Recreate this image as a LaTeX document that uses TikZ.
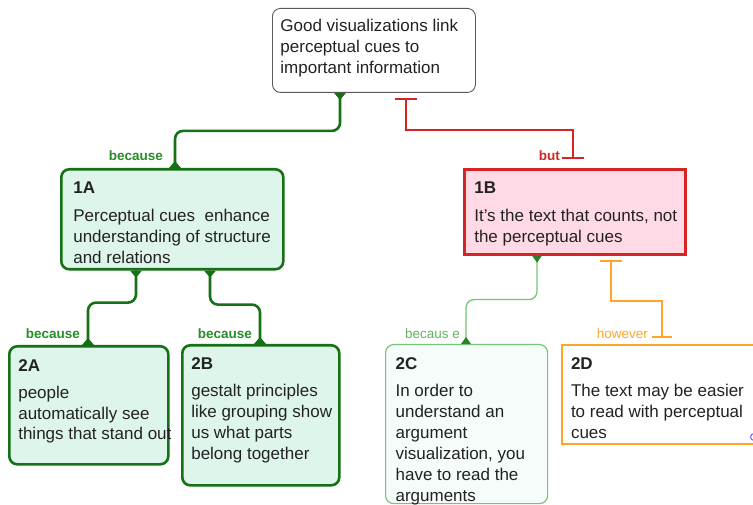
\documentclass[tikz,border=0pt]{standalone}
\usepackage{fontspec}
\setmainfont{Liberation Sans}
\definecolor{txt}{RGB}{34,34,34}
\definecolor{dgreen}{RGB}{22,112,22}
\definecolor{lblgreen}{RGB}{40,140,40}
\definecolor{mint}{RGB}{222,245,235}
\definecolor{redc}{RGB}{212,36,36}
\definecolor{pinkc}{RGB}{255,218,230}
\definecolor{lgreen}{RGB}{118,196,118}
\definecolor{pale}{RGB}{246,252,249}
\definecolor{orangec}{RGB}{255,166,40}
\definecolor{grayb}{RGB}{90,90,90}
\newcommand{\cbody}[3]{\parbox[t][#1][t]{#2}{\begin{tabular}[t]{@{}l@{}}#3\end{tabular}}}
\hbadness=10000 \hfuzz=200pt
\begin{document}
\begin{tikzpicture}[x=1pt,y=-1pt,
  every node/.style={text=txt, font=\fontsize{17}{21}\selectfont},
  topbox/.style={draw=grayb, line width=0.9pt, fill=white, rounded corners=8pt, inner xsep=8pt, inner ysep=8pt, anchor=north west},
  gbox/.style={draw=dgreen, line width=2.6pt, fill=mint, rounded corners=8pt, inner xsep=12pt, inner ysep=10pt, anchor=north west},
  rbox/.style={draw=redc, line width=2.6pt, fill=pinkc, inner xsep=10pt, inner ysep=10pt, anchor=north west},
  lgbox/.style={draw=lgreen, line width=1.2pt, fill=pale, rounded corners=8pt, inner xsep=10pt, inner ysep=10pt, anchor=north west},
  obox/.style={draw=orangec, line width=2pt, fill=white, inner xsep=9pt, inner ysep=10pt, anchor=north west},
  gline/.style={draw=dgreen, line width=2.6pt, rounded corners=8pt},
  rline/.style={draw=redc, line width=2.6pt},
  lgline/.style={draw=lgreen, line width=1.3pt, rounded corners=8pt},
  oline/.style={draw=orangec, line width=2pt},
  lbl/.style={font=\fontsize{13.5}{15}\selectfont\bfseries, inner sep=0pt, anchor=base east},
  lbln/.style={font=\fontsize{13.5}{15}\selectfont, inner sep=0pt, anchor=base east}
]
\useasboundingbox (0,0) rectangle (753,505);
\fill[white] (0,0) rectangle (753,505);

% boxes
\node[topbox] (top) at (272,8) {\cbody{68pt}{187pt}{Good visualizations link\\perceptual cues to\\important information}};
\node[gbox] (n1A) at (60,168) {\cbody{80pt}{198pt}{\textbf{1A}\\[7pt]Perceptual cues\ \ enhance\\understanding of structure\\and relations}};
\node[rbox] (n1B) at (463,168) {\cbody{65pt}{201pt}{\textbf{1B}\\[7pt]It's the text that counts, not\\the perceptual cues}};
\node[gbox, inner xsep=9pt] (n2A) at (8,345) {\cbody{98pt}{141pt}{\textbf{2A}\\[6pt]people\\automatically see\\things that stand out}};
\node[gbox, inner xsep=9pt] (n2B) at (181,344) {\cbody{120pt}{139pt}{\textbf{2B}\\[6pt]gestalt principles\\like grouping show\\us what parts\\belong together}};
\node[lgbox] (n2C) at (385,344) {\cbody{139pt}{142pt}{\textbf{2C}\\[6pt]In order to\\understand an\\argument\\visualization, you\\have to read the\\arguments}};
\node[obox] (n2D) at (561,344) {\cbody{79pt}{181pt}{\textbf{2D}\\[6pt]The text may be easier\\to read with perceptual\\cues}};

% coordinates
\coordinate (g0) at ([xshift=68]top.south west);
\coordinate (g1) at ([xshift=115]n1A.north west);
\coordinate (r1) at ([xshift=110,yshift=10]n1B.north west);
\coordinate (r0) at ([xshift=134,yshift=-6]top.south west);
\coordinate (a0) at ([xshift=76]n1A.south west);
\coordinate (a1) at ([xshift=80]n2A.north west);
\coordinate (b0) at ([xshift=150]n1A.south west);
\coordinate (b1) at ([xshift=79]n2B.north west);
\coordinate (c0) at ([xshift=74]n1B.south west);
\coordinate (c1) at ([xshift=81]n2C.north west);
\coordinate (o0) at ([xshift=148,yshift=-5]n1B.south west);
\coordinate (o1) at ([xshift=101,yshift=7]n2D.north west);

% connectors
\draw[gline] (g0) -- ++(0,38) -| (g1);
\draw[gline] (a0) -- ++(0,32) -| (a1);
\draw[gline] (b0) -- ++(0,34) -| (b1);
\draw[rline] (r1) -- ++(0,-28) -| (r0);
\draw[rline] ([xshift=-11]r1) -- ([xshift=11]r1);
\draw[rline] ([xshift=-11]r0) -- ([xshift=11]r0);
\draw[lgline] (c0) -- ++(0,44) -| (c1);
\draw[oline] (o0) -- ++(0,40) -| (o1);
\draw[oline] ([xshift=-11]o0) -- ([xshift=11]o0);
\draw[oline] ([xshift=-10]o1) -- ([xshift=10]o1);

% junction flares
\foreach \p in {g0,a0,b0} {\fill[dgreen] ([xshift=-6]\p) -- ([xshift=6]\p) -- ([yshift=-7]\p) -- cycle;}
\foreach \p in {g1,a1,b1} {\fill[dgreen] ([xshift=-6]\p) -- ([xshift=6]\p) -- ([yshift=7]\p) -- cycle;}
\fill[dgreen!80!lgreen] ([xshift=-5]c0) -- ([xshift=5]c0) -- ([yshift=-7]c0) -- cycle;
\fill[dgreen!80!lgreen] ([xshift=-5]c1) -- ([xshift=5]c1) -- ([yshift=7]c1) -- cycle;

% labels
\node[lbl, text=lblgreen] (l1) at (163,161) {because};
\node[lbl, text=redc] (l2) at (560,161) {but};
\node[lbl, text=lblgreen] (l3) at (80,338) {because};
\node[lbl, text=lblgreen] (l4) at (252,338) {because};
\node[lbln, text=lgreen!80!dgreen] (l5) at (460,338) {becaus e};
\node[lbln, text=orangec] (l6) at (648,338) {however};

% small blue mark at right edge
\draw[blue!60, line width=1pt] (754,437) circle[radius=3.5];
\end{tikzpicture}
\end{document}
